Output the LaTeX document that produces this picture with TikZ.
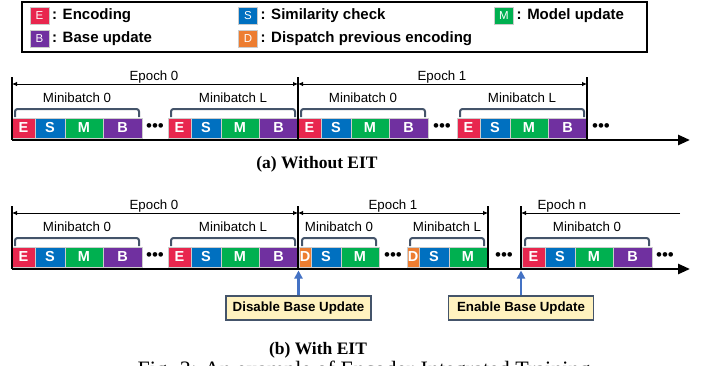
\documentclass[tikz,border=0pt]{standalone}
\usepackage{fontspec}
\setmainfont{Liberation Sans}
\newfontfamily\serifcap{Liberation Serif}
\usetikzlibrary{arrows.meta,positioning,calc}

\definecolor{encred}{HTML}{E8264E}
\definecolor{simblue}{HTML}{0070C0}
\definecolor{modgreen}{HTML}{00B050}
\definecolor{basepurple}{HTML}{7030A0}
\definecolor{disporange}{HTML}{ED7D31}
\definecolor{slate}{HTML}{44546A}
\definecolor{noteyellow}{HTML}{FFF2BF}
\definecolor{updblue}{HTML}{4472C4}

% one minibatch with all four steps: E S M B
\newcommand{\fullbatch}[3]{%
  \node[seg, fill=encred, minimum width=23pt, anchor=west] (#1e) at (#2,#3) {E};
  \node[seg, fill=simblue, minimum width=30pt, right=0pt of #1e] (#1s) {S};
  \node[seg, fill=modgreen, minimum width=38pt, right=0pt of #1s] (#1m) {M};
  \node[seg, fill=basepurple, minimum width=39pt, right=0pt of #1m] (#1b) {B};
}
% minibatch with frozen base: D S M
\newcommand{\skipbatch}[3]{%
  \node[seg, fill=disporange, minimum width=12pt, anchor=west] (#1d) at (#2,#3) {D};
  \node[seg, fill=simblue, minimum width=30pt, right=0pt of #1d] (#1s) {S};
  \node[seg, fill=modgreen, minimum width=38pt, right=0pt of #1s] (#1m) {M};
}
% bracket over a minibatch and its label
\newcommand{\mbbrace}[4]{%
  \draw[brace] ([xshift=3pt,yshift=1pt]#1.north west) -- ++(0,8) -| ([xshift=-3pt,yshift=1pt]#2.north east);
  \node[mblbl] (#4) at ($(#1.north west)!0.5!(#2.north east)+(0,16)$) {#3};
}

\begin{document}
\begin{tikzpicture}[x=1pt, y=1pt, font=\fontsize{13.3}{15}\selectfont]
  \tikzset{
    seg/.style={draw=white!80!black, line width=0.4pt, inner sep=0pt, outer sep=0pt,
      minimum height=20pt, text=white, font=\fontsize{14.5}{16}\selectfont\bfseries},
    legkey/.style={seg, minimum width=19pt, minimum height=17pt, font=\fontsize{11.5}{13}\selectfont},
    legtext/.style={anchor=west, inner sep=0pt, font=\fontsize{15}{17}\selectfont\bfseries},
    brace/.style={draw=slate, line width=2pt, rounded corners=2.5pt},
    mblbl/.style={anchor=base, inner sep=0pt},
    eplbl/.style={anchor=base, inner sep=0pt},
    epline/.style={line width=1.1pt},
    eparrow/.style={line width=0.8pt, {Latex[length=5pt,width=4.5pt]}-{Latex[length=5pt,width=4.5pt]}},
    timeline/.style={line width=2.6pt, -{Triangle[length=12pt,width=10pt]}},
    dots/.style={inner sep=0pt, font=\fontsize{17}{17}\selectfont},
    switchbox/.style={draw=slate, line width=1.6pt, fill=noteyellow, minimum width=145pt,
      minimum height=24pt, inner sep=0pt, font=\fontsize{13.3}{15}\selectfont\bfseries},
    switcharrow/.style={draw=updblue, line width=2.2pt, -{Triangle[length=8pt,width=8pt]}},
    subcap/.style={font=\serifcap\bfseries\fontsize{17.5}{20}\selectfont}
  }
  \useasboundingbox (0,0) rectangle (707,-365);
  \clip (0,0) rectangle (707,-365);

  % Legend
  \draw[line width=1.5pt] (22,-2) rectangle (647,-52);
  \node[legkey, fill=encred] (kE) at (39.5,-16) {E};
  \node[legtext, right=3pt of kE] (tE) {: Encoding};
  \node[legkey, fill=simblue] (kS) at (248,-16) {S};
  \node[legtext, right=3pt of kS] (tS) {: Similarity check};
  \node[legkey, fill=modgreen] (kM) at (504,-16) {M};
  \node[legtext, right=3pt of kM] (tM) {: Model update};
  \node[legkey, fill=basepurple] (kB) at (39.5,-39) {B};
  \node[legtext, right=3pt of kB] (tB) {: Base update};
  \node[legkey, fill=disporange] (kD) at (248,-39) {D};
  \node[legtext, right=3pt of kD] (tD) {: Dispatch previous encoding};

  % (a) Without EIT
  \coordinate (axa0) at (12,-140);
  \coordinate (axa1) at (690,-140);
  \coordinate (a0) at (12,-77);
  \coordinate (a1) at (298,-77);
  \coordinate (a2) at (587,-77);

  \fullbatch{a0m0}{12}{-128}
  \fullbatch{a0mL}{168}{-128}
  \fullbatch{a1m0}{298}{-128}
  \fullbatch{a1mL}{457}{-128}

  \mbbrace{a0m0e}{a0m0b}{Minibatch 0}{la0m0}
  \mbbrace{a0mLe}{a0mLb}{Minibatch L}{la0mL}
  \mbbrace{a1m0e}{a1m0b}{Minibatch 0}{la1m0}
  \mbbrace{a1mLe}{a1mLb}{Minibatch L}{la1mL}

  \node[dots] (ad0) at (155,-128) {\textbullet\textbullet\textbullet};
  \node[dots] (ad1) at (442,-128) {\textbullet\textbullet\textbullet};
  \node[dots] (ad2) at (601,-128) {\textbullet\textbullet\textbullet};

  \draw[epline] (a0) -- (a0 |- axa0);
  \draw[epline] (a1) -- (a1 |- axa0);
  \draw[epline] (a2) -- (a2 |- axa0);
  \draw[eparrow] ([yshift=-7pt]a0) -- ([yshift=-7pt]a1);
  \draw[eparrow] ([yshift=-7pt]a1) -- ([yshift=-7pt]a2);
  \node[eplbl] (ea0) at (154,-80) {Epoch 0};
  \node[eplbl] (ea1) at (442,-80) {Epoch 1};
  \draw[timeline] (axa0) -- (axa1);

  \node[subcap] (capa) at (317,-164) {(a) Without EIT};

  % (b) With EIT
  \coordinate (axb0) at (12,-269);
  \coordinate (axb1) at (690,-269);
  \coordinate (b0) at (12,-206);
  \coordinate (b1) at (298,-206);
  \coordinate (b2) at (488,-206);
  \coordinate (bn) at (521,-206);
  \coordinate (bend) at (680,-213);

  \fullbatch{b0m0}{12}{-257}
  \fullbatch{b0mL}{168}{-257}
  \skipbatch{b1m0}{299}{-257}
  \skipbatch{b1mL}{407}{-257}
  \fullbatch{bnm0}{522}{-257}

  \mbbrace{b0m0e}{b0m0b}{Minibatch 0}{lb0m0}
  \mbbrace{b0mLe}{b0mLb}{Minibatch L}{lb0mL}
  \mbbrace{b1m0d}{b1m0m}{Minibatch 0}{lb1m0}
  \mbbrace{b1mLd}{b1mLm}{Minibatch L}{lb1mL}
  \mbbrace{bnm0e}{bnm0b}{Minibatch 0}{lbnm0}

  \node[dots] (bd0) at (155,-257) {\textbullet\textbullet\textbullet};
  \node[dots] (bd1) at (393,-257) {\textbullet\textbullet\textbullet};
  \node[dots] (bd2) at (504,-257) {\textbullet\textbullet\textbullet};
  \node[dots] (bd3) at (665,-257) {\textbullet\textbullet\textbullet};

  \draw[epline] (b0) -- (b0 |- axb0);
  \draw[epline] (b1) -- (b1 |- axb0);
  \draw[epline] (b2) -- (b2 |- axb0);
  \draw[epline] (bn) -- (bn |- axb0);
  \draw[eparrow] ([yshift=-7pt]b0) -- ([yshift=-7pt]b1);
  \draw[eparrow] ([yshift=-7pt]b1) -- ([yshift=-7pt]b2);
  \draw[line width=0.8pt, -{Latex[length=5pt,width=4.5pt]}] (bend) -- ([yshift=-7pt]bn);
  \node[eplbl] (eb0) at (154,-209) {Epoch 0};
  \node[eplbl] (eb1) at (393,-209) {Epoch 1};
  \node[eplbl] (ebn) at (562,-209) {Epoch n};
  \draw[timeline] (axb0) -- (axb1);

  % base update switches
  \node[switchbox] (dis) at (298.5,-308) {Disable Base Update};
  \node[switchbox] (ena) at (521,-308) {Enable Base Update};
  \draw[switcharrow] (dis.north) -- (dis.north |- 0,-270.5);
  \draw[switcharrow] (ena.north) -- (ena.north |- 0,-270.5);

  \node[subcap] (capb) at (318,-350) {(b) With EIT};
  \node[font=\serifcap\fontsize{22}{24}\selectfont, anchor=base, inner sep=0pt] (fig) at (364,-376)
    {Fig. 3: An example of Encoder-Integrated Training};
\end{tikzpicture}
\end{document}
